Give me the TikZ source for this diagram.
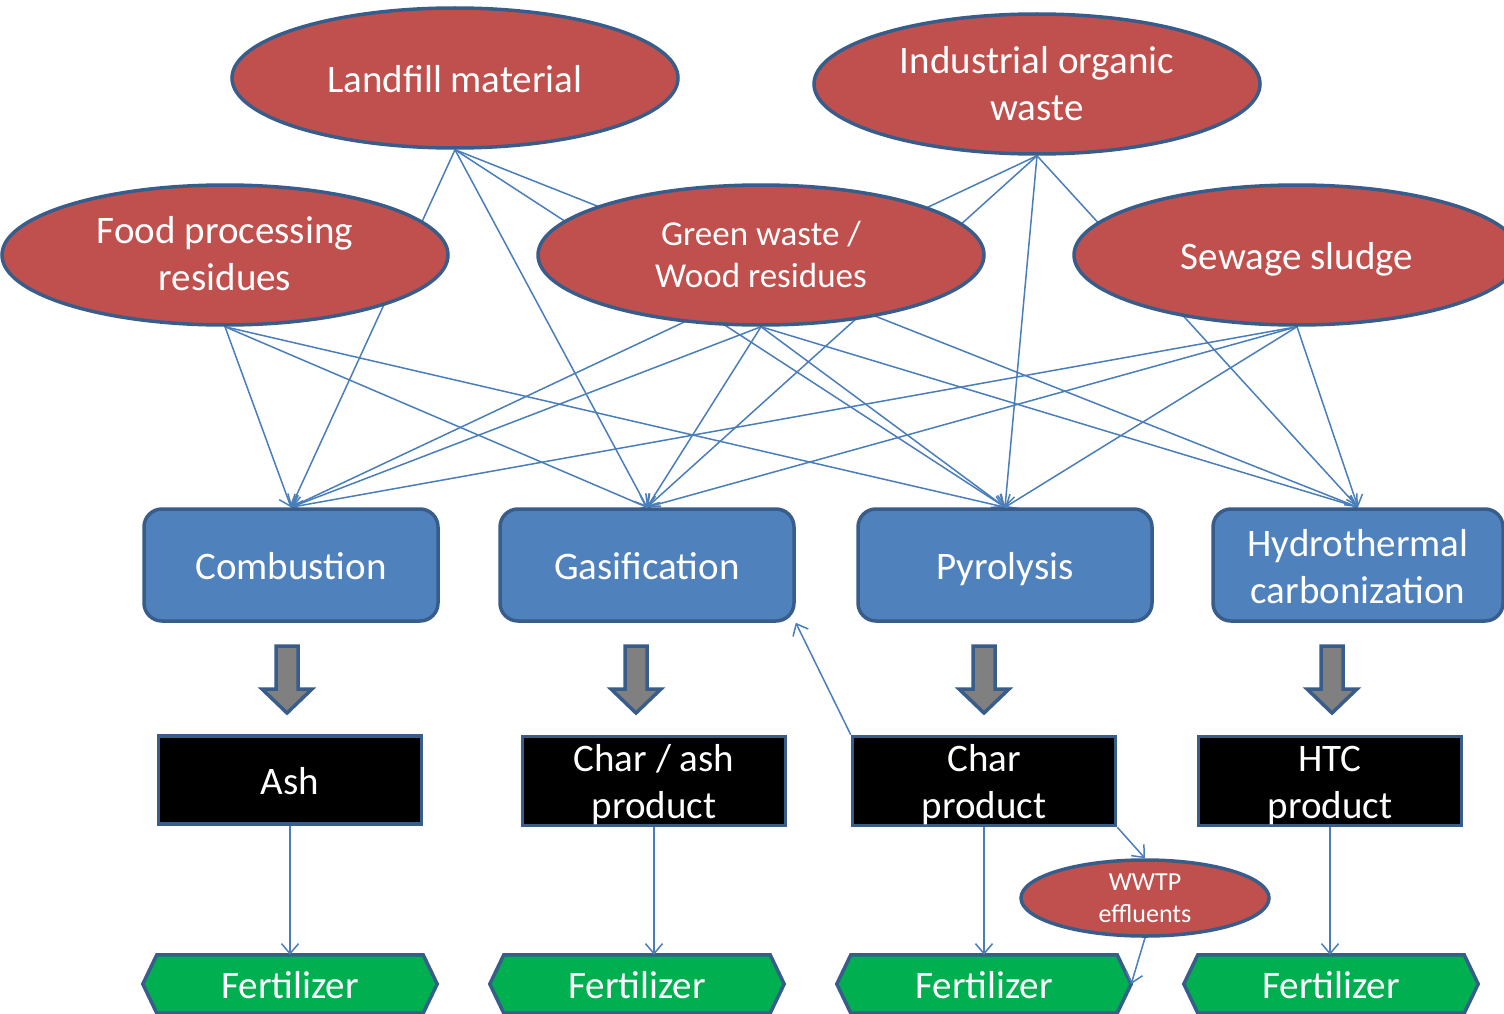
\documentclass[tikz,border=0pt]{standalone}
\usepackage{fontspec}
\setmainfont{Carlito}
\usetikzlibrary{shapes.geometric,arrows.meta,calc}
\definecolor{srcred}{HTML}{C0504D}
\definecolor{rimblue}{HTML}{385D8A}
\definecolor{procblue}{HTML}{4F81BD}
\definecolor{linkblue}{HTML}{4A7EBB}
\definecolor{fertgreen}{HTML}{00B050}
\definecolor{arrowgrey}{HTML}{808080}
\pgfdeclarelayer{bg}
\pgfdeclarelayer{hexback}
\pgfdeclarelayer{edges}
\pgfsetlayers{bg,hexback,edges,main}

\begin{document}
\begin{tikzpicture}[x=1pt,y=-1pt,
  bigtext/.style={font=\fontsize{39}{47}\selectfont},
  % fixed text boxes so labels sit on font baselines, not on ink
  oneline/.style={text height=35pt, text depth=5.5pt},
  twolines/.style={text height=82pt, text depth=7pt},
  srcnode/.style={ellipse, fill=srcred, draw=rimblue, line width=3.5pt,
    minimum width=446pt, minimum height=140pt, inner sep=0pt,
    text=white, align=center, bigtext},
  procbox/.style={rectangle, rounded corners=18pt, fill=procblue, draw=rimblue,
    line width=3.5pt, minimum width=294pt, minimum height=112pt, inner sep=0pt,
    text=white, align=center, bigtext},
  prodbox/.style={rectangle, fill=black, draw=rimblue, line width=3.5pt,
    minimum width=263pt, minimum height=88pt, inner sep=0pt,
    text=white, align=center, bigtext},
  fertnode/.style={rectangle, minimum width=266pt, minimum height=58pt,
    inner sep=0pt, text=white, bigtext, text height=35pt, text depth=7pt},
  hexfill/.style={fill=fertgreen, draw=rimblue, line width=3.5pt, line join=miter},
  greyarrow/.style={fill=arrowgrey, draw=rimblue, line width=3.5pt, line join=miter},
  link/.style={draw=linkblue, line width=1.5pt,
    -{Straight Barb[length=10pt,width=17pt,line width=1.5pt]}},
]
\useasboundingbox (0,0) rectangle (1504,1014);
\begin{pgfonlayer}{bg}
  \fill[white] (0,0) rectangle (1504,1014);
\end{pgfonlayer}

% feedstock ellipses
\node[srcnode, oneline] (landfill) at (455,78) {Landfill material};
\node[srcnode, text height=80pt, text depth=7pt] (industrial) at (1037,84) {Industrial organic\\waste};
\node[srcnode, text height=78pt, text depth=7pt] (food) at (225,255) {Food processing\\residues};
\node[srcnode, font=\fontsize{35}{42}\selectfont, text height=71pt, text depth=7pt]
  (green) at (761,255) {Green waste /\\Wood residues};
\node[srcnode, oneline] (sewage) at (1297,255) {Sewage sludge};

% conversion processes
\node[procbox, oneline] (comb) at (291,565) {Combustion};
\node[procbox, oneline] (gas) at (647,565) {Gasification};
\node[procbox, oneline] (pyro) at (1005,565) {Pyrolysis};
\node[procbox, minimum width=290pt, text height=84pt, text depth=7pt]
  (htc) at (1358,565) {Hydrothermal\\carbonization};

% products
\node[prodbox, oneline] (ash) at (290,780) {Ash};
\node[prodbox, twolines] (charash) at (654,781) {Char / ash\\product};
\node[prodbox, twolines] (charprod) at (984,781) {Char\\product};
\node[prodbox, twolines] (htcprod) at (1330,781) {HTC\\product};

% WWTP effluents
\node[srcnode, minimum width=248pt, minimum height=76pt,
  font=\fontsize{26}{32}\selectfont, text height=49pt, text depth=0pt]
  (wwtp) at (1145,898) {WWTP\\effluents};

% fertilizer end points
\node[fertnode] (fert1) at (290,984) {Fertilizer};
\node[fertnode] (fert2) at (637,984) {Fertilizer};
\node[fertnode] (fert3) at (984,984) {Fertilizer};
\node[fertnode] (fert4) at (1331,984) {Fertilizer};
\coordinate (fert3tip) at ([xshift=14pt]fert3.east);

\begin{pgfonlayer}{hexback}
  \foreach \f in {fert1,fert2,fert3,fert4}{
    \path[hexfill] (\f.north west) -- (\f.north east) -- ([xshift=14pt]\f.east)
      -- (\f.south east) -- (\f.south west) -- ([xshift=-14pt]\f.west) -- cycle;
  }
\end{pgfonlayer}

% grey block arrows from processes to products
\foreach \x in {287,636,984,1332}{
  \path[greyarrow, shift={(\x,646)}] (-11,0) -- (11,0) -- (11,43) -- (25,43)
    -- (0,67) -- (-25,43) -- (-11,43) -- cycle;
}

% feedstock to process connectors
\begin{pgfonlayer}{edges}
  \foreach \s/\t in {landfill/comb, landfill/gas, landfill/pyro, landfill/htc,
                     industrial/comb, industrial/gas, industrial/pyro, industrial/htc,
                     food/comb, food/gas, food/pyro,
                     green/comb, green/gas, green/pyro, green/htc,
                     sewage/comb, sewage/gas, sewage/pyro, sewage/htc}{
    \draw[link] (\s.south) -- (\t.north);
  }
  \draw[link] (ash.south) -- (fert1.north);
  \draw[link] (charash.south) -- (charash.south |- fert2.north);
  \draw[link] (charprod.south) -- (fert3.north);
  \draw[link] (htcprod.south) -- (htcprod.south |- fert4.north);
  \draw[link] (charprod.north west) -- (gas.south east);
  \draw[link] (charprod.south east) -- (wwtp.north);
  \draw[link] (wwtp.south) -- (fert3tip);
\end{pgfonlayer}
\end{tikzpicture}
\end{document}
